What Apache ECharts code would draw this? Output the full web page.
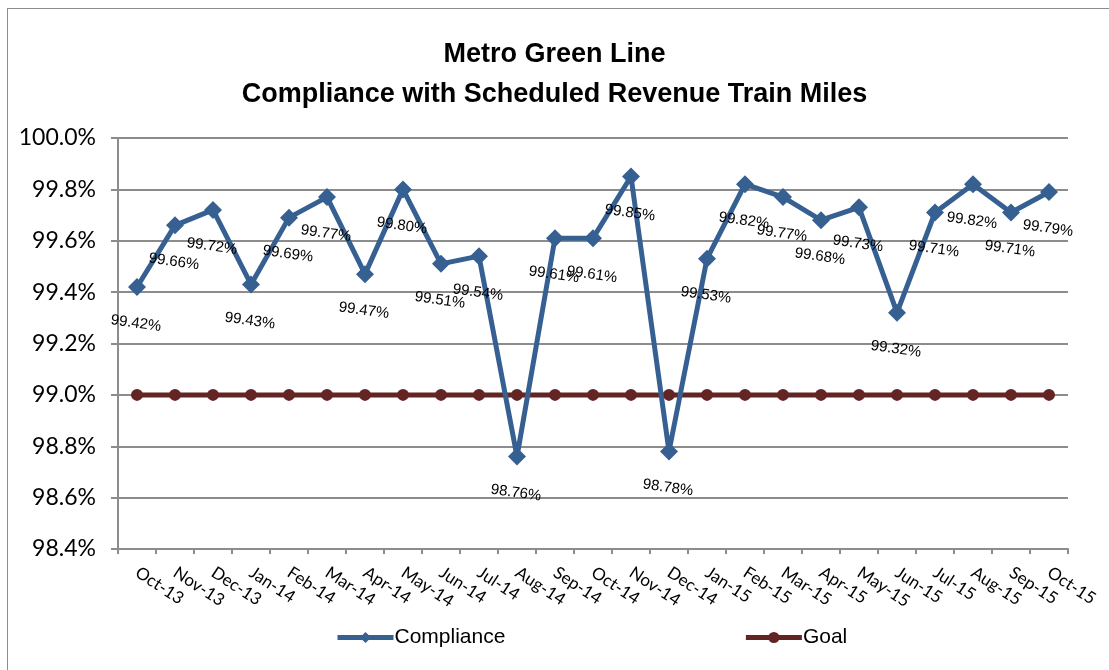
<!DOCTYPE html>
<html>
<head>
<meta charset="utf-8">
<script src="https://cdn.jsdelivr.net/npm/echarts@6/dist/echarts.min.js"></script>
<style>
  html, body { margin: 0; padding: 0; background: #fff; }
  #frame { position: absolute; left: 7px; top: 8px; width: 1120px; height: 680px; border: 1px solid #8c8c8c; }
  #chart { position: absolute; left: 0; top: 0; width: 1109px; height: 670px; }
</style>
</head>
<body>
<div id="frame"></div>
<div id="chart"></div>
<script>
const months = ['Oct-13', 'Nov-13', 'Dec-13', 'Jan-14', 'Feb-14', 'Mar-14', 'Apr-14', 'May-14', 'Jun-14',
  'Jul-14', 'Aug-14', 'Sep-14', 'Oct-14', 'Nov-14', 'Dec-14', 'Jan-15', 'Feb-15', 'Mar-15', 'Apr-15',
  'May-15', 'Jun-15', 'Jul-15', 'Aug-15', 'Sep-15', 'Oct-15'];
const compliance = [99.42, 99.66, 99.72, 99.43, 99.69, 99.77, 99.47, 99.80, 99.51, 99.54, 98.76, 99.61,
  99.61, 99.85, 98.78, 99.53, 99.82, 99.77, 99.68, 99.73, 99.32, 99.71, 99.82, 99.71, 99.79];
const goal = [99, 99, 99, 99, 99, 99, 99, 99, 99, 99, 99, 99, 99, 99, 99, 99, 99, 99, 99, 99, 99, 99, 99, 99, 99];
const yTicks = { min: 98.4, max: 100.0, step: 0.2 };

const chart = echarts.init(document.getElementById('chart'));

const narrow = '"Liberation Sans Narrow", "Liberation Sans", Arial, sans-serif';
const body = 'Lato, "Open Sans", sans-serif';

chart.setOption({
  backgroundColor: 'transparent',
  animation: false,
  title: {
    text: 'Metro Green Line\nCompliance with Scheduled Revenue Train Miles',
    left: 'center',
    top: 30,
    textStyle: {
      fontFamily: narrow,
      fontWeight: 'bold',
      fontSize: 27,
      lineHeight: 40,
      color: '#000'
    }
  },
  legend: {
    bottom: 17,
    left: 330,
    itemGap: 238,
    itemWidth: 56,
    itemHeight: 14,
    lineStyle: { width: 5 },
    textStyle: { fontFamily: narrow, fontSize: 21, color: '#000', padding: [0, 0, 0, -4] },
    data: ['Compliance', 'Goal']
  },
  grid: { left: 118, right: 41, top: 138, bottom: 121 },
  xAxis: {
    type: 'category',
    data: months,
    boundaryGap: true,
    axisLine: { lineStyle: { color: '#8c8c8c', width: 2 } },
    axisTick: { show: true, length: 5, alignWithLabel: false, lineStyle: { color: '#8c8c8c', width: 2 } },
    axisLabel: {
      interval: 0,
      rotate: -33,
      color: '#000',
      fontFamily: body,
      fontSize: 17,
      margin: 22
    }
  },
  yAxis: {
    type: 'value',
    min: yTicks.min,
    max: yTicks.max,
    interval: yTicks.step,
    axisLine: { show: true, lineStyle: { color: '#8c8c8c', width: 2 } },
    axisTick: { show: true, length: 7, lineStyle: { color: '#8c8c8c', width: 2 } },
    splitLine: { lineStyle: { color: '#8c8c8c', width: 2 } },
    axisLabel: {
      color: '#000',
      fontFamily: body,
      fontSize: 23,
      margin: 22,
      formatter: v => v.toFixed(1) + '%'
    }
  },
  series: [
    {
      name: 'Compliance',
      type: 'line',
      data: compliance,
      symbol: 'diamond',
      symbolSize: 18,
      z: 3,
      lineStyle: { color: '#376092', width: 5 },
      itemStyle: { color: '#376092' },
      label: {
        show: true,
        position: 'bottom',
        distance: 20,
        rotate: -8,
        fontFamily: narrow,
        fontSize: 15,
        color: '#000',
        formatter: p => p.value.toFixed(2) + '%'
      }
    },
    {
      name: 'Goal',
      type: 'line',
      data: goal,
      symbol: 'circle',
      symbolSize: 12,
      z: 2,
      lineStyle: { color: '#632523', width: 5 },
      itemStyle: { color: '#632523' }
    }
  ]
});
</script>
</body>
</html>
